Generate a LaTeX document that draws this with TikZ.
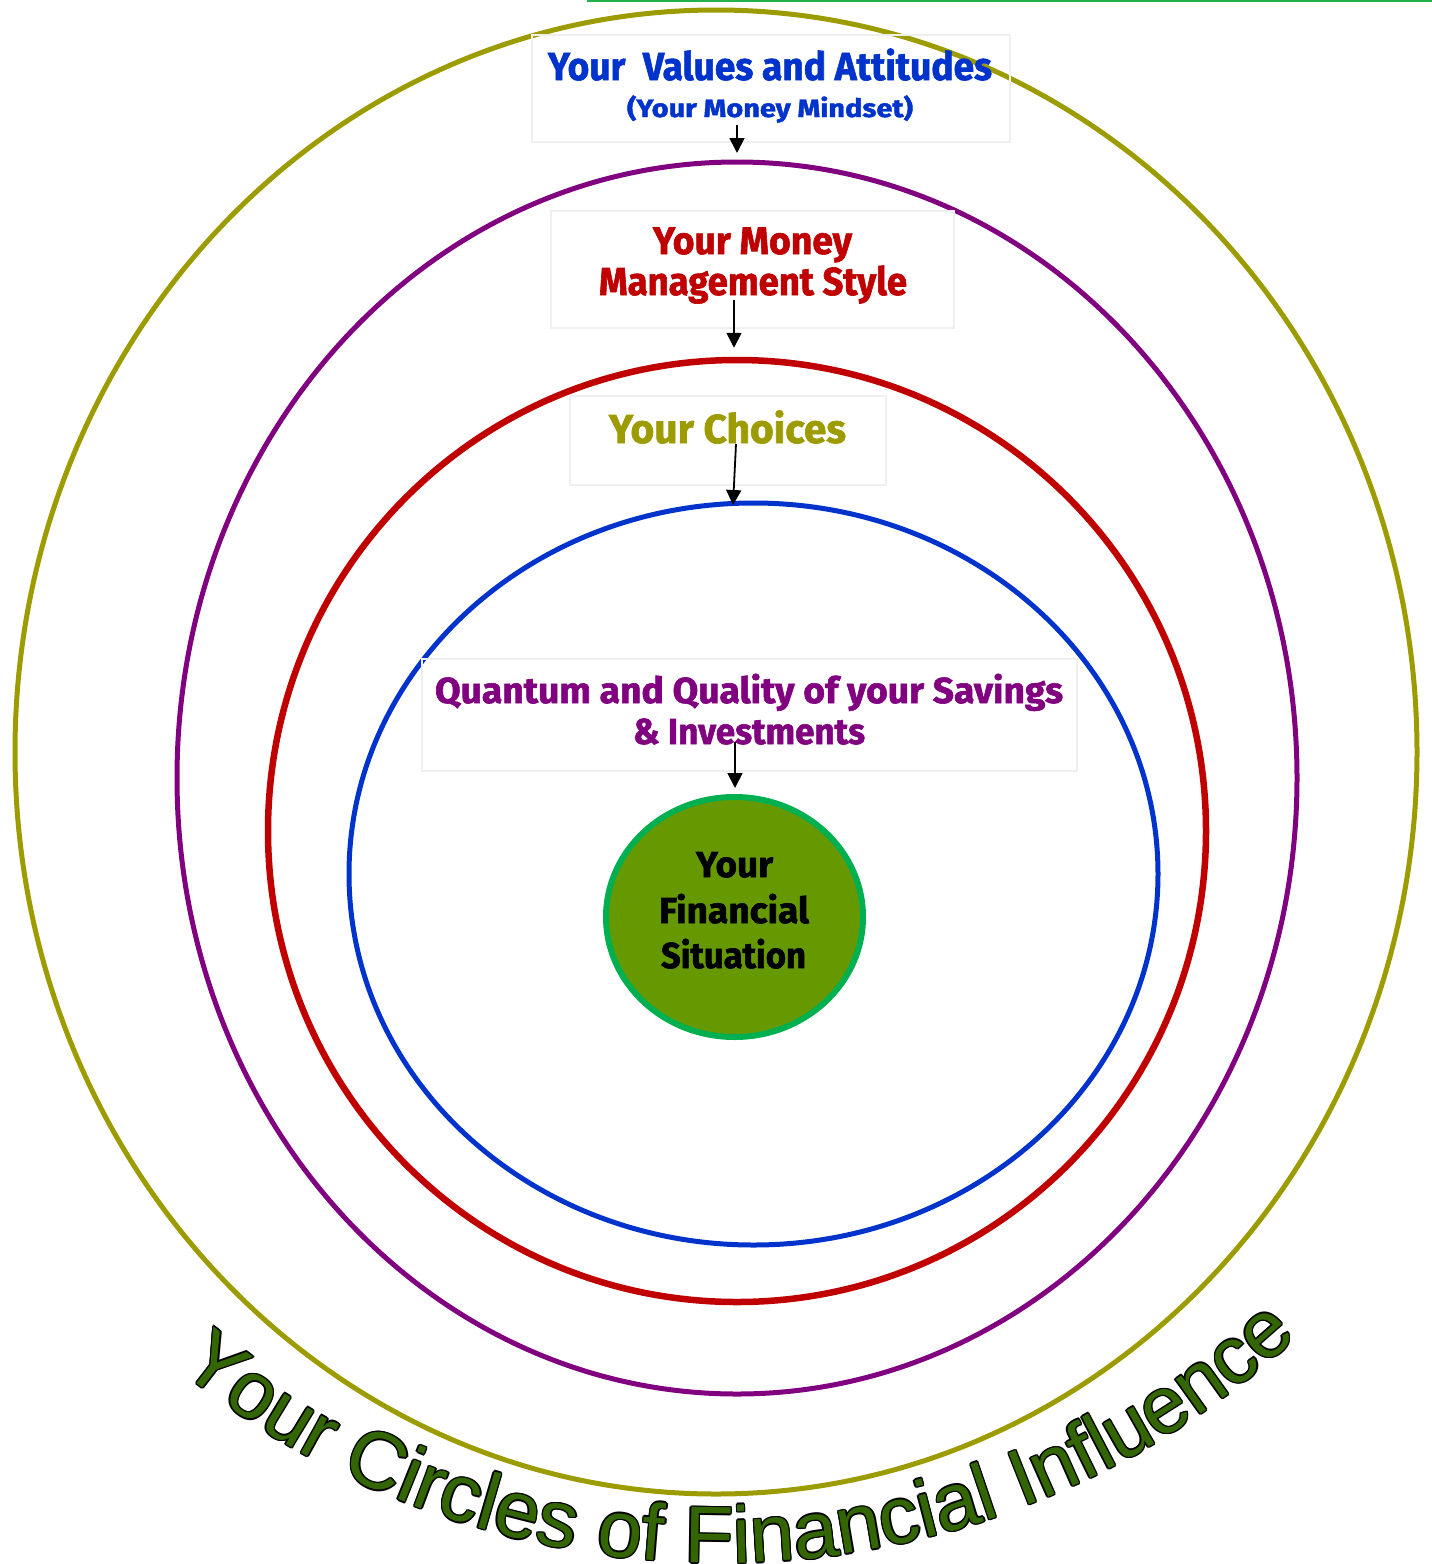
\documentclass[tikz,border=0pt]{standalone}
\usepackage{fontspec}
\usepackage{graphicx}
\usetikzlibrary{shapes.geometric,arrows.meta,decorations.text}
\newfontfamily\lblfont{Fira Sans}[BoldFeatures={FakeBold=1.6}]
\newfontfamily\arcfont{Liberation Sans}
\definecolor{olivec}{HTML}{9C9C00}
\definecolor{purplec}{HTML}{800080}
\definecolor{redc}{HTML}{C00000}
\definecolor{bluec}{HTML}{0033CC}
\definecolor{greenedge}{HTML}{00B050}
\definecolor{greenfill}{HTML}{669900}
\definecolor{arcgreen}{HTML}{336600}
\definecolor{topline}{HTML}{22B14C}
\definecolor{boxedge}{HTML}{EFEFEF}
\newcommand{\fitt}[3]{\resizebox{#1pt}{#2pt}{\lblfont\bfseries\fontsize{40}{40}\selectfont\raisebox{0pt}[\fontcharht\font`H][0pt]{#3}}}
\newcommand{\arcfmt}{\arcfont\fontsize{80.5}{80.5}\selectfont}
\tikzset{
  ring/.style={ellipse, draw, inner sep=0pt, fill=none},
  lblbox/.style={rectangle, draw=boxedge, line width=2pt, inner sep=0pt},
  lbl/.style={anchor=base west, inner sep=0pt, outer sep=0pt},
  arr/.style={line width=1.8pt, -{Triangle[length=15pt,width=15pt]}},
  arcpath/.style={decorate, decoration={text along path, text align=center,
    text color=#1, text={|\arcfmt|Your Circles of Financial Influence}}},
}
\begin{document}
\begin{tikzpicture}[x=1pt,y=1pt]
\fill[white] (0,0) rectangle (1432,-1564);
\useasboundingbox (0,0) rectangle (1432,-1564);
\draw[topline, line width=2pt] (587,-1) -- (1432,-1);
% rings
\node[ring, draw=olivec, line width=5pt, minimum width=1402pt, minimum height=1484pt] (olive) at (716,-752) {};
\node[ring, draw=purplec, line width=5pt, minimum width=1120pt, minimum height=1232pt] (purple) at (737,-778) {};
\node[ring, draw=redc, line width=6.5pt, minimum width=938pt, minimum height=942pt] (red) at (737,-831) {};
\node[ring, draw=bluec, line width=5pt, minimum width=809pt, minimum height=742pt] (blue) at (753.5,-874) {};
\node[ring, draw=greenedge, fill=greenfill, line width=6pt, minimum width=257pt, minimum height=240pt] (core) at (734.5,-917) {};
% boxes
\node[lblbox, minimum width=478pt, minimum height=107pt] (b1) at (771,-88.5) {};
\node[lblbox, minimum width=403pt, minimum height=117pt] (b2) at (752.5,-269.5) {};
\node[lblbox, minimum width=316pt, minimum height=89pt] (b3) at (728,-440.5) {};
\node[lblbox, minimum width=655pt, minimum height=112pt] (b4) at (749.5,-715) {};
% texts
\node[lbl, text=bluec] (t1) at (548,-80) {\fitt{444}{27}{Your\ \ Values and Attitudes}};
\node[lbl, text=bluec] (t2) at (627,-117) {\fitt{286}{17.5}{(Your Money Mindset)}};
\node[lbl, text=redc] (t3) at (653,-254) {\fitt{199}{26.5}{Your Money}};
\node[lbl, text=redc] (t4) at (599,-295) {\fitt{308}{27}{Management Style}};
\node[lbl, text=olivec] (t5) at (609,-443) {\fitt{237}{28}{Your Choices}};
\node[lbl, text=purplec] (t6) at (435,-703) {\fitt{628}{25}{Quantum and Quality of your Savings}};
\node[lbl, text=purplec] (t7) at (633,-744) {\fitt{232}{25}{\& Investments}};
\node[lbl, text=black] (t8) at (696,-877) {\fitt{77}{25}{Your}};
\node[lbl, text=black] (t9) at (659,-923) {\fitt{150}{25}{Financial}};
\node[lbl, text=black] (t10) at (661,-968) {\fitt{145}{25}{Situation}};
% arrows
\coordinate (a1s) at (737,-125);
\coordinate (a2s) at (734,-300);
\coordinate (a3s) at (736,-444);
\coordinate (a3e) at (733,-505);
\coordinate (a4s) at (735,-742);
\draw[arr] (a1s) -- ([yshift=6.5pt]purple.north -| a1s);
\draw[arr] (a2s) -- ([yshift=9pt]red.north -| a2s);
\draw[arr] (a3s) -- (a3e);
\draw[arr] (a4s) -- ([yshift=6pt]core.north -| a4s);
% curved title with outline
\foreach \dx/\dy in {1.4/0,-1.4/0,0/1.4,0/-1.4,1/1,-1/1,1/-1,-1/-1}{
  \path[shift={(\dx,\dy)}, arcpath=black]
    (720,-713) ++(211.65:850pt) arc[start angle=211.65, end angle=331.65, radius=850pt];
}
\path[arcpath=arcgreen]
    (720,-713) ++(211.65:850pt) arc[start angle=211.65, end angle=331.65, radius=850pt];
\end{tikzpicture}
\end{document}
